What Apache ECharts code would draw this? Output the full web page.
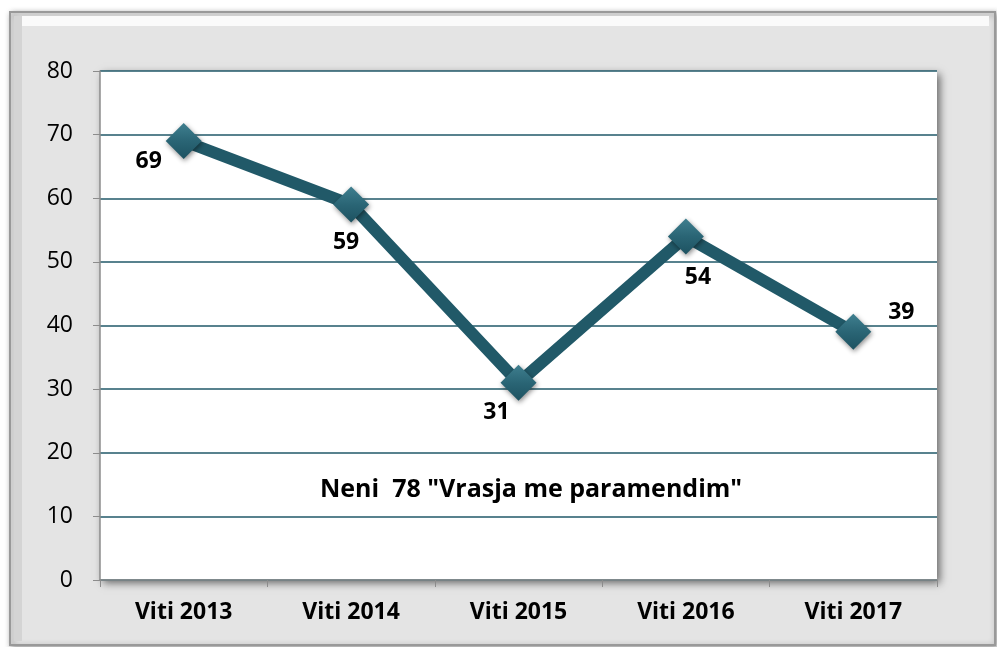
<!DOCTYPE html>
<html>
<head>
<meta charset="utf-8">
<script src="https://cdn.jsdelivr.net/npm/echarts@6/dist/echarts.min.js"></script>
<style>
  html, body { margin: 0; padding: 0; background: #fff; }
  #main { width: 997px; height: 647px; }
</style>
</head>
<body>
<div id="main"></div>
<script>
var chart = echarts.init(document.getElementById('main'));

var years = ['Viti 2013', 'Viti 2014', 'Viti 2015', 'Viti 2016', 'Viti 2017'];
var values = [69, 59, 31, 54, 39];
// where each number sits relative to its point
var labelPos = [[-35, 20], [-5, 38], [-22, 30], [12, 41], [48, -19]];
var titleText = 'Neni  78 "Vrasja me paramendim"';

var teal = '#215968';
var font = '"Open Sans", "Liberation Sans", sans-serif';

var points = values.map(function (v, i) {
  return {
    value: v,
    label: { offset: labelPos[i] }
  };
});

var option = {
  backgroundColor: '#fff',
  animation: false,
  graphic: [
    {
      type: 'rect', z: -10,
      shape: { x: 10, y: 12, width: 985, height: 633 },
      style: { fill: '#e4e4e4', stroke: '#999', lineWidth: 2,
               shadowBlur: 6, shadowColor: 'rgba(0,0,0,0.4)', shadowOffsetX: 2, shadowOffsetY: 2 }
    },
    {
      type: 'rect', z: -9,
      shape: { x: 14, y: 16, width: 975, height: 10 },
      style: { fill: '#fafafa' }
    },
    {
      type: 'rect', z: -9,
      shape: { x: 14, y: 16, width: 8, height: 625 },
      style: { fill: '#d4d4d4' }
    },
    {
      type: 'text', z: 10,
      left: 320, top: 477,
      style: { text: titleText, fill: '#000', font: 'bold 25px ' + font }
    }
  ],
  grid: {
    left: 100, right: 60, top: 71, bottom: 67,
    show: true,
    backgroundColor: '#fff',
    borderWidth: 0,
    shadowBlur: 8,
    shadowColor: 'rgba(0,0,0,0.55)',
    shadowOffsetX: 3,
    shadowOffsetY: 3
  },
  xAxis: {
    type: 'category',
    data: years,
    boundaryGap: true,
    axisLine: { lineStyle: { color: '#8c8c8c', width: 1.5 } },
    axisTick: { show: true, length: 7, lineStyle: { color: '#8c8c8c' } },
    axisLabel: { color: '#000', fontSize: 23, fontWeight: 'bold', fontFamily: font, margin: 21 }
  },
  yAxis: {
    type: 'value',
    min: 0, max: 80, interval: 10,
    axisLine: { show: true, lineStyle: { color: '#8c8c8c', width: 1.5 } },
    axisTick: { show: true, length: 7, lineStyle: { color: '#8c8c8c' } },
    axisLabel: { color: '#000', fontSize: 23, fontFamily: font, margin: 27 },
    splitLine: { lineStyle: { color: teal, width: 1.5 } }
  },
  series: [{
    type: 'line',
    data: points,
    symbol: 'diamond',
    symbolSize: 36,
    lineStyle: { color: teal, width: 12 },
    itemStyle: {
      color: new echarts.graphic.LinearGradient(0, 0, 0, 1, [
        { offset: 0, color: '#3f7f8f' },
        { offset: 0.5, color: '#2a6575' },
        { offset: 1, color: '#1d5261' }
      ]),
      borderWidth: 0,
      shadowBlur: 5, shadowColor: 'rgba(0,0,0,0.45)', shadowOffsetX: 1, shadowOffsetY: 2
    },
    label: {
      show: true,
      position: 'inside',
      color: '#000',
      fontSize: 23,
      fontWeight: 'bold',
      fontFamily: font
    }
  }]
};

chart.setOption(option);
</script>
</body>
</html>
